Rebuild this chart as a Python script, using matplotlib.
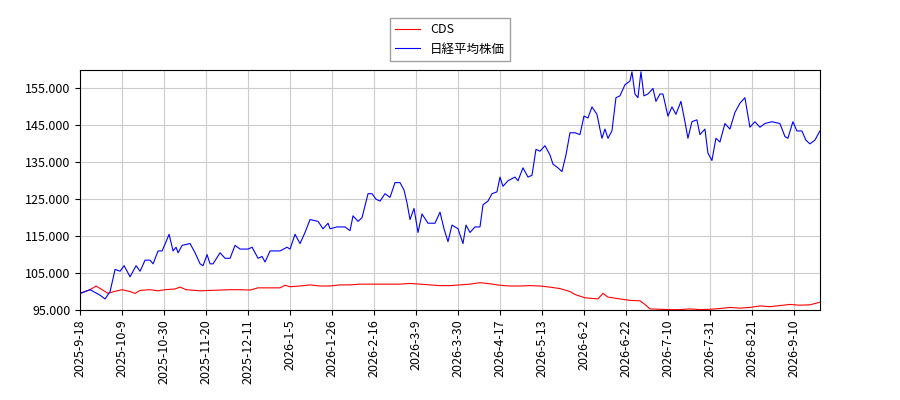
import matplotlib
matplotlib.use("Agg")
import matplotlib.pyplot as plt
import matplotlib.ticker as mticker
import pandas as pd

plt.rcParams['font.family'] = ['Noto Sans CJK JP', 'DejaVu Sans']

START = pd.Timestamp("2025-09-18")

# x axis is by trading day; ticks every 15 trading days
tick_labels = ["2025-9-18", "2025-10-9", "2025-10-30", "2025-11-20", "2025-12-11",
               "2026-1-5", "2026-1-26", "2026-2-16", "2026-3-9", "2026-3-30",
               "2026-4-17", "2026-5-13", "2026-6-2", "2026-6-22", "2026-7-10",
               "2026-7-31", "2026-8-21", "2026-9-10"]

# (position in calendar-equivalent days from start, value in thousands)
nikkei = [
    (0, 99.5), (5, 100.5), (10, 99), (12.5, 98), (15, 100), (17.5, 106), (20, 105.5), (22, 107),
    (25, 104), (28, 107), (30, 105.5), (32.5, 108.5), (35, 108.5), (36.5, 107.5), (39, 111),
    (41, 111), (43, 113.5), (44.5, 115.5), (46.5, 111), (48, 112), (49, 110.5), (51, 112.5),
    (55, 113), (57.5, 110.5), (60, 107.5), (61.5, 107), (63.5, 110), (65, 107.5), (66.5, 107.5),
    (70, 110.5), (72.5, 109), (75, 109), (77.5, 112.5), (80, 111.5), (84, 111.5), (86, 112),
    (89, 109), (91, 109.5), (92.5, 108), (95, 111), (100, 111), (103.5, 112), (105, 111.5),
    (107.5, 115.5), (110, 113), (112.5, 116), (115, 119.5), (119, 119), (121.5, 117),
    (124, 118.5), (125, 117), (128.5, 117.5), (132.5, 117.5), (135, 116.5), (136.5, 120.5),
    (139, 119), (141, 120), (144, 126.5), (146, 126.5), (148, 125), (150, 124.5), (152.5, 126.5),
    (155, 125.5), (157.5, 129.5), (160, 129.5), (162, 127.5), (163.5, 124), (165, 119.5),
    (167, 122.5), (169, 116), (171, 121), (174, 118.5), (177.5, 118.5), (180, 121.5), (182, 117),
    (184, 113.5), (186, 118), (189, 117), (191.5, 113), (193, 118), (195, 116), (197.5, 117.5),
    (200, 117.5), (201.5, 123.5), (204, 124.5), (206, 126.5), (208.5, 127), (210, 131),
    (211.5, 128.5), (214, 130), (217.5, 131), (219, 130), (221.5, 133.5), (224, 131),
    (226, 131.5), (228, 138.5), (230, 138), (232.5, 139.5), (235, 137), (236.5, 134.5),
    (239, 133.5), (241, 132.5), (243, 137), (245, 143), (247.5, 143), (250, 142.5), (252, 147.5),
    (254, 147), (256, 150), (258.5, 148), (260, 144), (261, 141.5), (262.5, 144), (264, 141.5),
    (266, 143.5), (268, 152.5), (270, 153), (272.5, 156), (275, 157), (276, 159.5), (277.5, 153.5),
    (279, 152.5), (280.5, 159.5), (282, 153), (284, 153.5), (286.5, 155), (288, 151.5),
    (290, 153.5), (291.5, 153.5), (294, 147.5), (296, 150), (298, 148), (300.5, 151.5),
    (302.5, 146), (304, 141.5), (306, 146), (308.5, 146.5), (310, 142.5), (312.5, 144),
    (314, 137.5), (316, 135.5), (318, 141.5), (320, 140.5), (322.5, 145.5), (325, 144),
    (327.5, 148.5), (330, 151), (332.5, 152.5), (335, 144.5), (337.5, 146), (340, 144.5),
    (342.5, 145.5), (346, 146), (350, 145.5), (352.5, 142), (354, 141.5), (356.5, 146),
    (358.5, 143.5), (361, 143.5), (363, 141), (365, 140), (367.5, 141), (370, 143.5),
]

cds = [
    (0, 99.5), (5, 100.5), (8, 101.5), (11, 100.5), (14, 99.5), (17, 100), (21, 100.5), (25, 100),
    (27.5, 99.5), (30, 100.3), (35, 100.5), (39, 100.2), (42.5, 100.5), (47.5, 100.7), (50, 101.2),
    (53, 100.5), (60, 100.2), (65, 100.3), (70, 100.4), (75, 100.5), (80, 100.5), (85, 100.4),
    (89, 101), (95, 101), (100, 101), (102.5, 101.7), (105, 101.3), (110, 101.5), (115, 101.8),
    (120, 101.5), (125, 101.5), (130, 101.8), (135, 101.8), (140, 102), (145, 102), (150, 102),
    (155, 102), (160, 102), (165, 102.2), (170, 102), (175, 101.8), (180, 101.6), (185, 101.6),
    (190, 101.8), (195, 102), (200, 102.4), (205, 102.1), (210, 101.7), (215, 101.5),
    (220, 101.5), (225, 101.6), (230, 101.5), (235, 101.2), (240, 100.8), (245, 100),
    (247.5, 99.2), (252.5, 98.3), (259, 98), (261.5, 99.5), (264, 98.5), (270, 98), (275, 97.6),
    (280, 97.5), (282.5, 96.5), (285, 95.3), (290, 95.2), (295, 95.1), (300, 95.1), (305, 95.3),
    (310, 95.1), (315, 95.2), (320, 95.4), (325, 95.7), (330, 95.5), (335, 95.7), (340, 96.1),
    (345, 95.9), (350, 96.2), (355, 96.5), (360, 96.3), (365, 96.4), (370, 97.1),
]

def to_series(pairs):
    d = [p[0] for p in pairs]
    v = [p[1] * 1000 for p in pairs]
    return d, v

fig = plt.figure(figsize=(9, 4), dpi=100)
ax = fig.add_axes([0.089, 0.225, 0.822, 0.6])

d, v = to_series(cds)
ax.plot(d, v, color="red", lw=0.8, label="CDS")
d, v = to_series(nikkei)
ax.plot(d, v, color="blue", lw=0.8, label="日経平均株価")

ax.set_xlim(0, 370)
ax.set_ylim(95000, 160000)
ax.set_yticks(range(95000, 160000, 10000))
ax.yaxis.set_major_formatter(mticker.FuncFormatter(lambda y, _: f"{int(y):,}".replace(",", ".")))

ax.set_xticks([21 * i for i in range(len(tick_labels))])
ax.set_xticklabels(tick_labels, rotation=90)
ax.tick_params(labelsize=9)
ax.grid(True, color="#cccccc", lw=0.8)
ax.set_axisbelow(True)

fig.legend(loc="upper center", bbox_to_anchor=(0.5, 0.97), fontsize=9,
           fancybox=False, edgecolor="#888888")

plt.savefig("out.png")
